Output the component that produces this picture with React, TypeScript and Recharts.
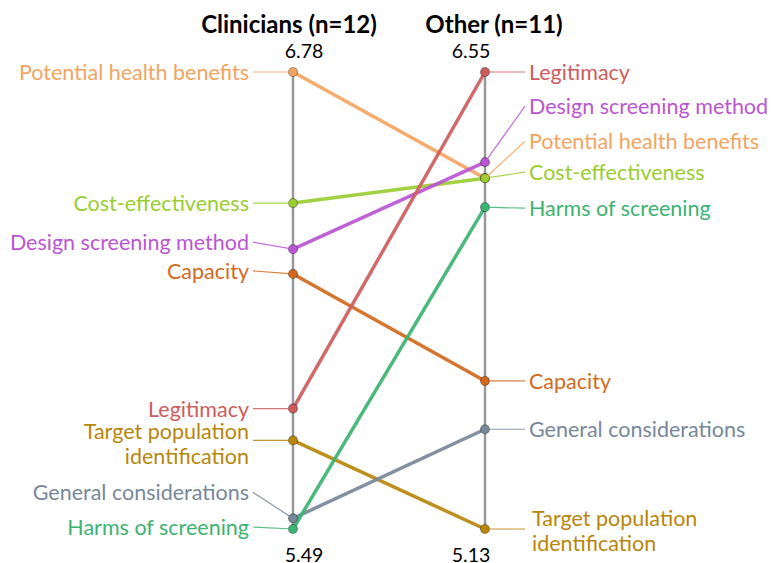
import React from 'react';
import { LineChart, Line, XAxis, YAxis, ReferenceLine, LabelList } from 'recharts';

const categories = [
  'Potential health benefits',
  'Cost-effectiveness',
  'Design screening method',
  'Capacity',
  'Legitimacy',
  'Target population identification',
  'General considerations',
  'Harms of screening',
];
const clinicians = [6.78, 6.41, 6.28, 6.21, 5.83, 5.74, 5.52, 5.49];
const other = [6.22, 6.22, 6.27, 5.59, 6.55, 5.13, 5.44, 6.13];
const groups = ['Clinicians (n=12)', 'Other (n=11)'];

const colors = [
  '#F4A460', // sandybrown
  '#9ACD32', // yellowgreen
  '#BA55D3', // mediumorchid
  '#D2691E', // chocolate
  '#CD5C5C', // indianred
  '#B8860B', // darkgoldenrod
  '#778899', // lightslategray
  '#3CB371', // mediumseagreen
];

// nudges for the name labels so they don't pile up (same order as categories)
const leftShift = [0, 0, -7, -3, 0, 0, -26, -2];
const rightShift = [-37, -6, -56, 0, 0, 0, 0, 1];

const FONT = 'Lato, sans-serif';

// each column gets its own min..max scale
const rescale = (vals: number[]) => {
  const lo = Math.min(...vals);
  const hi = Math.max(...vals);
  return vals.map((v) => (v - lo) / (hi - lo));
};
const cScaled = rescale(clinicians);
const oScaled = rescale(other);

const series = categories.map((name, i) => ({
  name,
  color: colors[i],
  points: [
    { pos: 0, v: cScaled[i], raw: clinicians[i] },
    { pos: 1, v: oScaled[i], raw: other[i] },
  ],
}));

const wrap = (s: string) => {
  if (s.length <= 28) return [s];
  const out: string[] = [];
  let cur = '';
  s.split(' ').forEach((w) => {
    if (cur && (cur + ' ' + w).length > 18) {
      out.push(cur);
      cur = w;
    } else cur = cur ? cur + ' ' + w : w;
  });
  if (cur) out.push(cur);
  return out;
};

const nameLabel = (i: number) => (props: any) => {
  const { x, y, index } = props;
  if (x == null || y == null) return null;
  const left = index === 0;
  const ey = y + (left ? leftShift : rightShift)[i];
  const ex = left ? x - 40 : x + 40;
  const lines = wrap(categories[i]);
  const tx = left ? ex - 4 : ex + (lines.length > 1 ? 7 : 4);
  const lh = 25;
  const start = ey - ((lines.length - 1) * lh) / 2 + (lines.length > 1 ? (left ? 3 : 1) : 0);
  return (
    <g>
      <line x1={x} y1={y} x2={ex} y2={ey} stroke={colors[i]} strokeWidth={1.2} strokeOpacity={0.85} />
      <text
        x={tx}
        y={start}
        textAnchor={left ? 'end' : 'start'}
        dominantBaseline="central"
        fill={colors[i]}
        fontSize={21.5}
        fontFamily={FONT}
      >
        {lines.map((ln, k) => (
          <tspan key={k} x={tx} y={start + k * lh}>
            {ln}
          </tspan>
        ))}
      </text>
    </g>
  );
};

const titleDx = [-4, 9];
const valueDx = [11, -14];

const columnHeads = (col: number) => (props: any) => {
  const vb = props.viewBox || {};
  const x = vb.x ?? 0;
  const top = vb.y ?? 0;
  const bottom = top + (vb.height ?? 0);
  const vals = col === 0 ? clinicians : other;
  return (
    <g fontFamily={FONT}>
      <text x={x + titleDx[col]} y={top - 39} textAnchor="middle" fontSize={24} fontWeight={700} fill="#000">
        {groups[col]}
      </text>
      <text x={x + valueDx[col]} y={top - 14} textAnchor="middle" fontSize={19.5} fill="#000">
        {Math.max(...vals).toFixed(2)}
      </text>
      <text x={x + valueDx[col]} y={bottom + 33} textAnchor="middle" fontSize={19.5} fill="#000">
        {Math.min(...vals).toFixed(2)}
      </text>
    </g>
  );
};

const App = () => {
  return (
    <div style={{ position: 'absolute', left: 0, top: 0 }}>
      <LineChart width={771} height={563} margin={{ top: 72, right: 286, bottom: 34, left: 293 }}>
        <XAxis type="number" dataKey="pos" domain={[0, 1]} hide />
        <YAxis type="number" dataKey="v" domain={[0, 1]} hide />
        <ReferenceLine x={0} stroke="#999" strokeWidth={2.5} zIndex={-50} label={columnHeads(0)} />
        <ReferenceLine x={1} stroke="#999" strokeWidth={2.5} zIndex={-50} label={columnHeads(1)} />
        {series.map((s, i) => (
          <Line
            key={s.name}
            data={s.points}
            dataKey="v"
            name={s.name}
            stroke={s.color}
            strokeWidth={3.5}
            strokeOpacity={0.92}
            dot={{ r: 4.5, fill: s.color, stroke: 'rgba(0,0,0,0.35)', strokeWidth: 1.2 }}
            activeDot={false}
            isAnimationActive={false}
          >
            <LabelList dataKey="raw" content={nameLabel(i)} />
          </Line>
        ))}
      </LineChart>
    </div>
  );
};

export default App;
